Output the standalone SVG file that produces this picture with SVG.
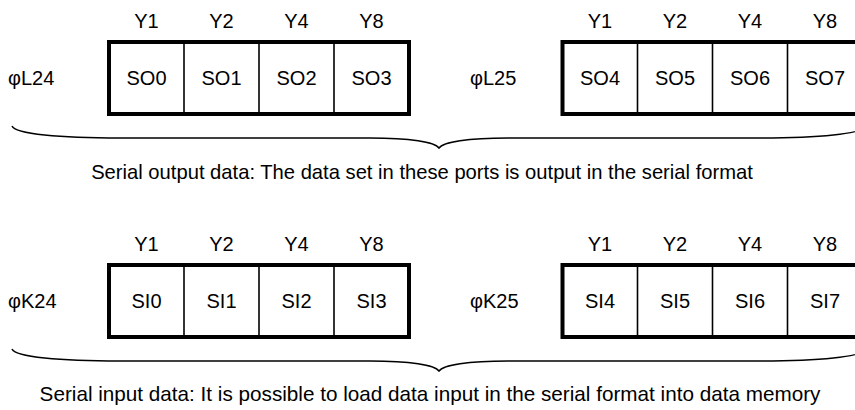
<svg xmlns="http://www.w3.org/2000/svg" width="855" height="410" viewBox="0 0 855 410">
<style>
text{font-family:"Liberation Sans",Arial,sans-serif;font-size:20px;fill:#000}
.c{text-anchor:middle}
.cap1{font-size:20.2px}
.cap2{font-size:20.7px}
.box{fill:#fff;stroke:#000;stroke-width:4}
.div{stroke:#000;stroke-width:1.6}
.brace{fill:none;stroke:#000;stroke-width:1.5}
</style>
<defs>
<path id="br" class="brace" d="M12,126 C15,134 60,138 120,138 L370,138 C410,138 435,142 439,148 C443,142 468,138 508,138 L758,138 C818,138 863,134 866,126"/>
</defs>
<g id="reg-L24">
<text x="8" y="85">φL24</text>
<text class="c" x="146.5" y="28">Y1</text><text class="c" x="221.5" y="28">Y2</text><text class="c" x="296.5" y="28">Y4</text><text class="c" x="371.5" y="28">Y8</text>
<rect class="box" x="109" y="42" width="300" height="72"/>
<line class="div" x1="184" y1="42" x2="184" y2="114"/><line class="div" x1="259" y1="42" x2="259" y2="114"/><line class="div" x1="334" y1="42" x2="334" y2="114"/>
<text class="c" x="146.5" y="85">SO0</text><text class="c" x="221.5" y="85">SO1</text><text class="c" x="296.5" y="85">SO2</text><text class="c" x="371.5" y="85">SO3</text>
</g>
<g id="reg-L25">
<text x="470" y="85">φL25</text>
<text class="c" x="600" y="28">Y1</text><text class="c" x="675" y="28">Y2</text><text class="c" x="750" y="28">Y4</text><text class="c" x="825" y="28">Y8</text>
<rect class="box" x="562.5" y="42" width="300" height="72"/>
<line class="div" x1="637.5" y1="42" x2="637.5" y2="114"/><line class="div" x1="712.5" y1="42" x2="712.5" y2="114"/><line class="div" x1="787.5" y1="42" x2="787.5" y2="114"/>
<text class="c" x="600" y="85">SO4</text><text class="c" x="675" y="85">SO5</text><text class="c" x="750" y="85">SO6</text><text class="c" x="825" y="85">SO7</text>
</g>
<g id="reg-K24">
<text x="8" y="308">φK24</text>
<text class="c" x="146.5" y="251">Y1</text><text class="c" x="221.5" y="251">Y2</text><text class="c" x="296.5" y="251">Y4</text><text class="c" x="371.5" y="251">Y8</text>
<rect class="box" x="109" y="265" width="300" height="72"/>
<line class="div" x1="184" y1="265" x2="184" y2="337"/><line class="div" x1="259" y1="265" x2="259" y2="337"/><line class="div" x1="334" y1="265" x2="334" y2="337"/>
<text class="c" x="146.5" y="308">SI0</text><text class="c" x="221.5" y="308">SI1</text><text class="c" x="296.5" y="308">SI2</text><text class="c" x="371.5" y="308">SI3</text>
</g>
<g id="reg-K25">
<text x="470" y="308">φK25</text>
<text class="c" x="600" y="251">Y1</text><text class="c" x="675" y="251">Y2</text><text class="c" x="750" y="251">Y4</text><text class="c" x="825" y="251">Y8</text>
<rect class="box" x="562.5" y="265" width="300" height="72"/>
<line class="div" x1="637.5" y1="265" x2="637.5" y2="337"/><line class="div" x1="712.5" y1="265" x2="712.5" y2="337"/><line class="div" x1="787.5" y1="265" x2="787.5" y2="337"/>
<text class="c" x="600" y="308">SI4</text><text class="c" x="675" y="308">SI5</text><text class="c" x="750" y="308">SI6</text><text class="c" x="825" y="308">SI7</text>
</g>
<g id="braces">
<use href="#br"/>
<use href="#br" transform="translate(0,223)"/>
</g>
<g id="captions">
<text class="c cap1" x="422" y="179">Serial output data: The data set in these ports is output in the serial format</text>
<text class="c cap2" x="430" y="401">Serial input data: It is possible to load data input in the serial format into data memory</text>
</g>
</svg>
